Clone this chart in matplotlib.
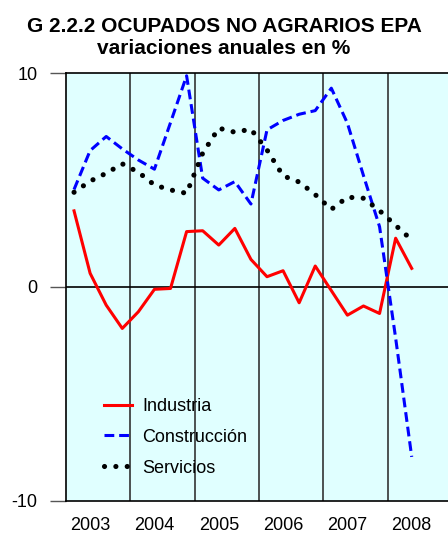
import matplotlib
matplotlib.use("Agg")
import matplotlib.pyplot as plt
import numpy as np

plt.rcParams['font.family'] = ['Liberation Sans', 'DejaVu Sans']

years = ["2003", "2004", "2005", "2006", "2007", "2008"]
industria = [3.55, 0.63, -0.86, -1.95, -1.17, -0.12, -0.08, 2.58, 2.62, 1.95, 2.73, 1.28,
             0.47, 0.75, -0.75, 0.97, -0.18, -1.33, -0.90, -1.25, 2.27, 0.86]
construccion = [4.55, 6.37, 7.03, 6.45, 5.93, 5.50, 7.68, 9.87, 5.08, 4.53, 4.92, 3.87,
                7.34, 7.78, 8.07, 8.24, 9.29, 7.65, 5.20, 2.81, -2.40, -7.96]
servicios = [4.42, 4.94, 5.31, 5.75, 5.36, 4.76, 4.53, 4.37, 6.25, 7.42, 7.23, 7.37,
             6.40, 5.19, 4.90, 4.31, 3.62, 4.19, 4.14, 3.56, 2.87, 2.19]

W, H = 448, 533
fig = plt.figure(figsize=(W / 100, H / 100), dpi=100)
left, right, top, bottom = 66, 448, 73, 500.5
ax = fig.add_axes([left / W, (H - bottom) / H, (right - left) / W, (bottom - top) / H])
ax.set_facecolor('#E0FFFF')

x = np.arange(len(industria))
ax.plot(x, industria, color='#FF0000', lw=2.2, label='Industria', zorder=3)
ax.plot(x, construccion, color='#0000FF', lw=2.2, linestyle=(0, (3.2, 1.6)),
        label='Construcción', zorder=3)
ax.plot(x, servicios, color='black', lw=3.7, linestyle=(0, (0.01, 2.2)),
        dash_capstyle='round', label='Servicios', zorder=3)

ax.set_xlim(-0.5, -0.5 + (right - left) / 16.08)
ax.set_ylim(-10, 10)

for k in range(1, 6):
    ax.axvline(-0.5 + 4 * k, color='#333333', lw=1.2, zorder=1)
ax.axhline(0, color='black', lw=1.2, zorder=1)

ax.spines['right'].set_visible(False)
for s in ['left', 'top', 'bottom']:
    ax.spines[s].set_color('black')
    ax.spines[s].set_linewidth(1.2)

ax.set_yticks([-10, 0, 10])
ax.set_yticklabels(['-10', '0', '10'])
ax.tick_params(axis='y', length=11.5, width=1.0, color='#555555', pad=9, labelsize=13)
ax.set_xticks([1 + 4 * i for i in range(len(years))])
ax.set_xticklabels(years)
ax.tick_params(axis='x', length=0, pad=12, labelsize=13)

leg = ax.legend(loc='upper left', bbox_to_anchor=(0.08, 0.257), frameon=False,
                fontsize=13, handlelength=1.55, handletextpad=0.6, labelspacing=0.77,
                borderaxespad=0)

fig.text(0.5, 1 - 26 / H, 'G 2.2.2 OCUPADOS NO AGRARIOS EPA', ha='center', va='center',
         fontsize=15, fontweight='bold')
fig.text(0.5, 1 - 48 / H, 'variaciones anuales en %', ha='center', va='center',
         fontsize=15, fontweight='bold')

fig.savefig('out.png', dpi=100)
